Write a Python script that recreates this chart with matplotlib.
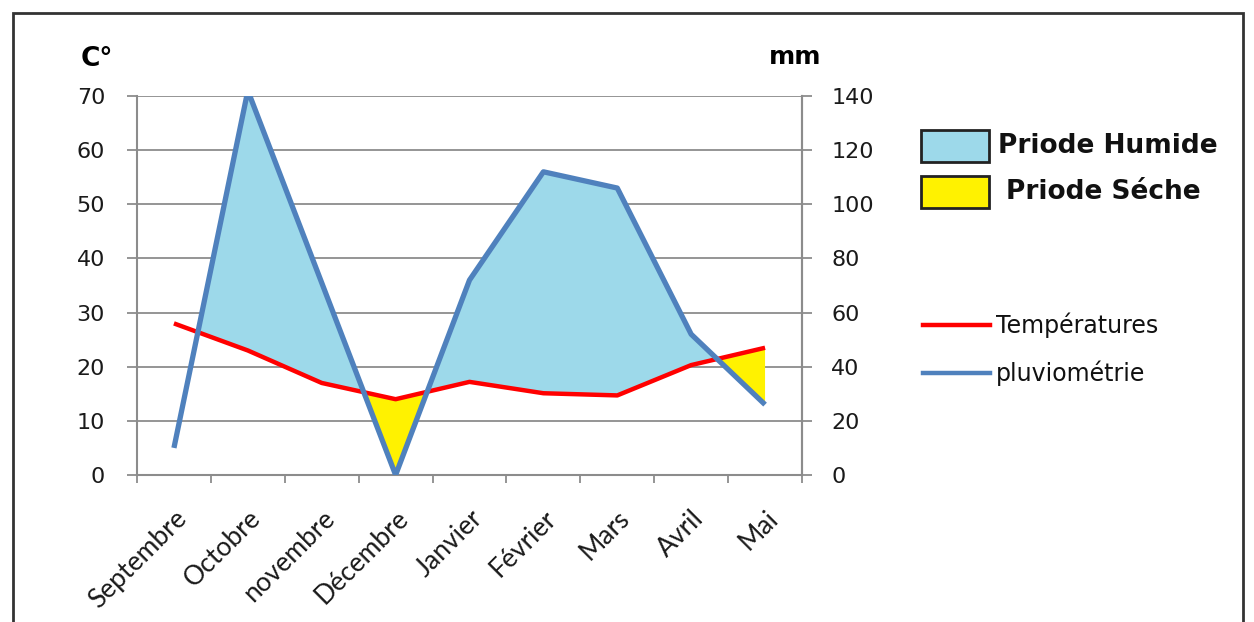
import numpy as np
import matplotlib.pyplot as plt
from matplotlib.patches import Rectangle
from matplotlib.lines import Line2D
from matplotlib.transforms import ScaledTranslation

# Diagramme ombrothermique : températures (°C) et pluviométrie (mm), P = 2T
months = ['Septembre', 'Octobre', 'novembre', 'Décembre', 'Janvier',
          'Février', 'Mars', 'Avril', 'Mai']
temperature = [28, 23, 17, 14, 17.2, 15.1, 14.7, 20.3, 23.5]
rainfall = [10, 142, 71, 0, 72, 112, 106, 52, 26]

temp_ticks = [0, 10, 20, 30, 40, 50, 60, 70]
rain_ticks = [0, 20, 40, 60, 80, 100, 120, 140]

period_labels = ['Priode Humide', 'Priode Séche']
line_labels = ['Températures', 'pluviométrie']

WET = '#9DD9EA'
DRY = '#FFF200'
RED = '#FF0000'
BLUE = '#4F81BD'
GRID = '#8C8C8C'

W, H = 1254, 622


def fx(x):
    return x / W


def fy(y):
    return 1 - y / H


fig = plt.figure(figsize=(W / 100, H / 100), dpi=100)
ax = fig.add_axes([fx(137), fy(475), fx(802 - 137), (475 - 96) / H])
ax2 = ax.twinx()

x = np.arange(len(months))
t = np.array(temperature, dtype=float)
p_half = np.array(rainfall, dtype=float) / 2

# humid where P/2 > T, dry where P/2 < T (first month left unshaded)
wet = p_half > t
dry = (p_half < t) & (x > 0)
ax.fill_between(x, t, p_half, where=wet, interpolate=True,
                color=WET, lw=0, zorder=1)
ax.fill_between(x, t, p_half, where=dry, interpolate=True,
                color=DRY, lw=0, zorder=1)
ax.plot(x, temperature, color=RED, lw=3.2, zorder=3, solid_capstyle='butt')
ax2.plot(x, rainfall, color=BLUE, lw=3.8, zorder=3, solid_capstyle='butt')

ax.set_xlim(-0.5, len(months) - 0.5)
ax.set_ylim(0, 70)
ax2.set_ylim(0, 140)
ax.set_yticks(temp_ticks)
ax2.set_yticks(rain_ticks)
ax.yaxis.grid(True, color=GRID, lw=1.3)
ax.set_axisbelow(True)

ax.set_xticks(np.arange(-0.5, len(months), 1))
ax.set_xticklabels([])
ax.set_xticks(x, minor=True)
ax.set_xticklabels(months, minor=True, rotation=45, ha='right', va='top',
                   rotation_mode='anchor', fontsize=19, family='Lato',
                   color='#1a1a1a')
shift = ScaledTranslation(-6 / 72, 0, fig.dpi_scale_trans)
for lbl in ax.get_xticklabels(minor=True):
    lbl.set_transform(lbl.get_transform() + shift)
ax.tick_params(axis='x', which='major', length=6, width=1.3, color=GRID)
ax.tick_params(axis='x', which='minor', length=0, pad=22)

ax.tick_params(axis='y', length=7, width=1.3, color=GRID, pad=16,
               labelsize=16, labelcolor='#1a1a1a')
ax2.tick_params(axis='y', length=7, width=1.3, color=GRID, pad=14,
                labelsize=16, labelcolor='#1a1a1a')

for a in (ax, ax2):
    a.spines['top'].set_visible(False)
    for side in ('left', 'right', 'bottom'):
        a.spines[side].set_color(GRID)
        a.spines[side].set_linewidth(1.5)
ax2.spines['left'].set_visible(False)
ax2.spines['bottom'].set_visible(False)

fig.text(fx(81), fy(59), 'C°', fontsize=19, fontweight='bold',
         va='center', ha='left')
fig.text(fx(769), fy(57), 'mm', fontsize=18, fontweight='bold',
         va='center', ha='left')

# légende des périodes
for (y0, y1, color, label, tx) in [(130, 162, WET, period_labels[0], 998),
                                   (176, 208, DRY, period_labels[1], 1006)]:
    fig.add_artist(Rectangle((fx(921), fy(y1)), fx(989 - 921),
                             (y1 - y0) / H, facecolor=color,
                             edgecolor='#222222', lw=2,
                             transform=fig.transFigure))
    fig.text(fx(tx), fy((y0 + y1) / 2), label, fontsize=19,
             fontweight='bold', va='center', ha='left', color='#111111')

# légende des courbes
for (y, color, label) in [(325, RED, line_labels[0]),
                          (373, BLUE, line_labels[1])]:
    fig.add_artist(Line2D([fx(923), fx(990)], [fy(y), fy(y)], color=color,
                          lw=3.2, transform=fig.transFigure))
    fig.text(fx(996), fy(y), label, fontsize=17, va='center', ha='left',
             color='#111111')

# cadre
fig.add_artist(Rectangle((fx(13), -0.1), fx(1243 - 13), fy(13) + 0.1,
                         fill=False, edgecolor='#333333', lw=2,
                         transform=fig.transFigure))

fig.savefig('out.png', dpi=100)
